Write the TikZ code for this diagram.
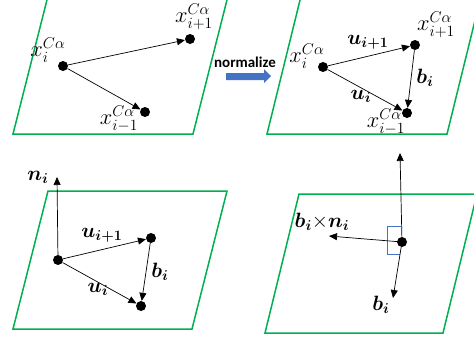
\documentclass[tikz,border=0pt]{standalone}
\usepackage{amsmath,bm}
\usepackage{fontspec}
\newfontfamily\carlito{Carlito}
\usetikzlibrary{arrows.meta}
\definecolor{plgreen}{RGB}{0,176,80}
\definecolor{arblue}{RGB}{68,114,196}
\newcommand{\xlab}[1]{\scalebox{1.3}{$#1$}}
\newcommand{\blab}[1]{\scalebox{1.2}{$#1$}}
\begin{document}
\begin{tikzpicture}[x=1pt,y=-1pt,
  plane/.style={draw=plgreen,line width=1.5pt,line join=miter},
  dot/.style={circle,fill=black,inner sep=0pt,minimum size=10pt},
  vec/.style={draw,line width=0.7pt,-{Triangle[length=8pt,width=7pt]}},
  lbl/.style={inner sep=0pt,font=\fontsize{17}{20}\selectfont},
  ra/.style={draw=arblue,line width=0.8pt}]
\useasboundingbox (0,0) rectangle (474,341);
\clip (0,0) rectangle (474,341);
% planes
\draw[plane] (13,134) -- (193,134) -- (229.5,-10) -- (49.5,-10) -- cycle;
\draw[plane] (267,134) -- (447,134) -- (482.5,-10) -- (302.5,-10) -- cycle;
\draw[plane] (48,191) -- (227,191) -- (192,329) -- (13,329) -- cycle;
\draw[plane] (299,194) -- (477,194) -- (443,333) -- (265,333) -- cycle;
% panel 1
\node[dot] (a1) at (63,66) {};
\node[dot] (a2) at (190,39) {};
\node[dot] (a3) at (145,112) {};
\draw[vec] (a1) -- (a2);
\draw[vec] (a1) -- (a3);
\node[lbl] (la1) at (48,50) {\xlab{x_i^{C\alpha}}};
\node[lbl] (la2) at (194,17) {\xlab{x_{i+1}^{C\alpha}}};
\node[lbl] (la3) at (119,119) {\xlab{x_{i-1}^{C\alpha}}};
% normalize
\node[inner sep=0pt,font=\carlito\bfseries\fontsize{15}{18}\selectfont] (norm) at (245,62) {normalize};
\fill[arblue] (226,73) -- (264,73) -- (264,69) -- (271,76) -- (264,83) -- (264,80) -- (226,80) -- cycle;
% panel 2
\node[dot] (b1) at (323,67) {};
\node[dot] (b2) at (415,45) {};
\node[dot] (b3) at (407,113) {};
\draw[vec] (b1) -- (b2);
\draw[vec] (b1) -- (b3);
\draw[vec] (b2) -- (b3);
\node[lbl] (lb1) at (307,56) {\xlab{x_i^{C\alpha}}};
\node[lbl] (lb2) at (436,25) {\xlab{x_{i+1}^{C\alpha}}};
\node[lbl] (lb3) at (386,122) {\xlab{x_{i-1}^{C\alpha}}};
\node[lbl] (lbu1) at (368,42) {\blab{\bm{u_{i+1}}}};
\node[lbl] (lbu) at (361,96) {\blab{\bm{u_{i}}}};
\node[lbl] (lbb) at (425,78) {\blab{\bm{b_{i}}}};
% panel 3
\node[dot] (c1) at (58,260) {};
\node[dot] (c2) at (151,238) {};
\node[dot] (c3) at (141,306) {};
\coordinate (cn) at (57,177);
\draw[vec] (c1) -- (cn);
\draw[vec] (c1) -- (c2);
\draw[vec] (c1) -- (c3);
\draw[vec] (c2) -- (c3);
\node[lbl] (lcn) at (38,177) {\blab{\bm{n_{i}}}};
\node[lbl] (lcu1) at (102,235) {\blab{\bm{u_{i+1}}}};
\node[lbl] (lcu) at (98,289) {\blab{\bm{u_{i}}}};
\node[lbl] (lcb) at (160,272) {\blab{\bm{b_{i}}}};
% panel 4
\draw[ra] (401,226) -- (387,226) -- (387,254) -- (400,254);
\node[dot] (d) at (402,242) {};
\coordinate (dup) at (400,153);
\coordinate (dleft) at (329,236);
\coordinate (ddown) at (393,298);
\draw[vec] (d) -- (dup);
\draw[vec] (d) -- (dleft);
\draw[vec] (d) -- (ddown);
\node[lbl] (ldx) at (322,222) {\blab{\bm{b_{i}}{\times}\bm{n_{i}}}};
\node[lbl] (ldb) at (381,305) {\blab{\bm{b_{i}}}};
\end{tikzpicture}
\end{document}
